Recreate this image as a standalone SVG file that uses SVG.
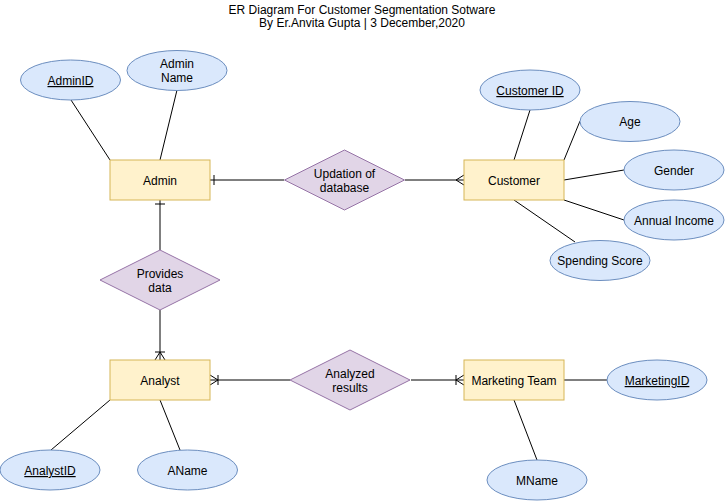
<svg xmlns="http://www.w3.org/2000/svg" width="725" height="501" viewBox="0 0 725 501">
<style>
text{font-family:"Liberation Sans",Arial,sans-serif;font-size:12px;fill:#000;text-anchor:middle}
.ent{fill:#fff2cc;stroke:#d6b656;stroke-width:1}
.rel{fill:#e1d5e7;stroke:#9673a6;stroke-width:1}
.att{fill:#dae8fc;stroke:#6c8ebf;stroke-width:1}
.ln{stroke:#000;stroke-width:1;fill:none}
.u{text-decoration:underline}
</style>
<defs>
<marker id="one" markerUnits="userSpaceOnUse" orient="auto" refX="0" refY="0" markerWidth="20" markerHeight="20" overflow="visible"><path d="M-4,-5 L-4,5" stroke="#000" fill="none"/></marker>
<marker id="many" markerUnits="userSpaceOnUse" orient="auto" refX="0" refY="0" markerWidth="20" markerHeight="20" overflow="visible"><path d="M0,-5 L-8,0 L0,5" stroke="#000" fill="none"/></marker>
<marker id="oneMany" markerUnits="userSpaceOnUse" orient="auto" refX="0" refY="0" markerWidth="20" markerHeight="20" overflow="visible"><path d="M0,-5 L-8,0 L0,5 M-8,-5 L-8,5" stroke="#000" fill="none"/></marker>
</defs>
<rect width="725" height="501" fill="#fff"/>
<g id="title">
<text x="362" y="14">ER Diagram For Customer Segmentation Sotware</text>
<text x="362" y="27">By Er.Anvita Gupta | 3 December,2020</text>
</g>
<g id="connectors">
<line class="ln" x1="71" y1="100" x2="110" y2="160"/>
<line class="ln" x1="177" y1="90" x2="160" y2="160"/>
<line class="ln" x1="530" y1="110" x2="514" y2="160"/>
<line class="ln" x1="580" y1="121" x2="564" y2="160"/>
<line class="ln" x1="564" y1="180" x2="624" y2="170"/>
<line class="ln" x1="564" y1="200" x2="624" y2="220"/>
<line class="ln" x1="514" y1="200" x2="575" y2="242"/>
<line class="ln" x1="51" y1="450" x2="110" y2="400"/>
<line class="ln" x1="160" y1="400" x2="180" y2="450"/>
<line class="ln" x1="564" y1="380" x2="607" y2="380"/>
<line class="ln" x1="514" y1="400" x2="537" y2="460"/>
<line class="ln" x1="284" y1="180" x2="210" y2="180" marker-end="url(#one)"/>
<line class="ln" x1="405" y1="180" x2="464" y2="180" marker-end="url(#many)"/>
<line class="ln" x1="160" y1="250" x2="160" y2="200" marker-end="url(#one)"/>
<line class="ln" x1="160" y1="310" x2="160" y2="360" marker-end="url(#oneMany)"/>
<line class="ln" x1="290" y1="380" x2="210" y2="380" marker-end="url(#oneMany)"/>
<line class="ln" x1="411" y1="380" x2="464" y2="380" marker-end="url(#oneMany)"/>
</g>
<g id="admin"><rect class="ent" x="110" y="160" width="100" height="40"/><text x="160" y="185">Admin</text></g>
<g id="customer"><rect class="ent" x="464" y="160" width="100" height="40"/><text x="514" y="185">Customer</text></g>
<g id="analyst"><rect class="ent" x="110" y="360" width="100" height="40"/><text x="160" y="385">Analyst</text></g>
<g id="marketingTeam"><rect class="ent" x="464" y="360" width="100" height="40"/><text x="514" y="385">Marketing Team</text></g>
<g id="updation"><polygon class="rel" points="344.5,150 404.5,180 344.5,210 284.5,180"/><text x="344.5" y="178">Updation of</text><text x="344.5" y="192">database</text></g>
<g id="providesData"><polygon class="rel" points="160,250 220,280 160,310 100,280"/><text x="160" y="278">Provides</text><text x="160" y="292">data</text></g>
<g id="analyzedResults"><polygon class="rel" points="350,350 410,380 350,410 290,380"/><text x="350" y="378">Analyzed</text><text x="350" y="392">results</text></g>
<g id="adminID"><ellipse class="att" cx="70.5" cy="80" rx="50" ry="20"/><text class="u" x="70.5" y="85">AdminID</text></g>
<g id="adminName"><ellipse class="att" cx="177" cy="70.5" rx="50" ry="20"/><text x="177" y="68">Admin</text><text x="177" y="82">Name</text></g>
<g id="customerID"><ellipse class="att" cx="530" cy="90" rx="50" ry="20"/><text class="u" x="530" y="95">Customer ID</text></g>
<g id="age"><ellipse class="att" cx="630" cy="121.5" rx="50" ry="20"/><text x="630" y="126">Age</text></g>
<g id="gender"><ellipse class="att" cx="674" cy="170" rx="50" ry="20"/><text x="674" y="175">Gender</text></g>
<g id="annualIncome"><ellipse class="att" cx="674" cy="220" rx="50" ry="20"/><text x="674" y="225">Annual Income</text></g>
<g id="spendingScore"><ellipse class="att" cx="600" cy="260.5" rx="50" ry="20"/><text x="600" y="265">Spending Score</text></g>
<g id="analystID"><ellipse class="att" cx="50" cy="470" rx="50" ry="20"/><text class="u" x="50" y="475">AnalystID</text></g>
<g id="aName"><ellipse class="att" cx="187.5" cy="470" rx="50" ry="20"/><text x="187.5" y="475">AName</text></g>
<g id="marketingID"><ellipse class="att" cx="657" cy="380" rx="50" ry="20"/><text class="u" x="657" y="385">MarketingID</text></g>
<g id="mName"><ellipse class="att" cx="537" cy="480" rx="50" ry="20"/><text x="537" y="485">MName</text></g>
</svg>
